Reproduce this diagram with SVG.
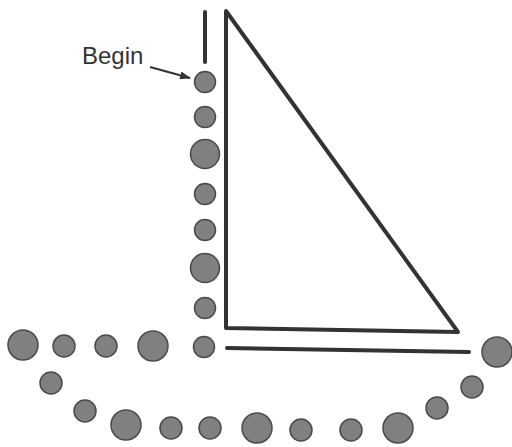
<svg xmlns="http://www.w3.org/2000/svg" width="512" height="447" viewBox="0 0 512 447">
<style>
.d{fill:#808080;stroke:#4a4a4a;stroke-width:1.5}
.ln{fill:none;stroke:#333;stroke-width:4;stroke-linecap:round;stroke-linejoin:round}
.lbl{font-family:"Liberation Sans",Arial,sans-serif;font-size:24px;fill:#333}
</style>
<defs>
<marker id="ah" markerWidth="11" markerHeight="8" refX="10" refY="4" orient="auto" markerUnits="userSpaceOnUse">
<path d="M0,0 L11,4 L0,8 Z" fill="#333"/>
</marker>
</defs>
<rect width="512" height="447" fill="#fff"/>
<g id="connectors">
<line class="ln" x1="205" y1="12" x2="205" y2="62"/>
<path class="ln" d="M226,11 L226,328 L458,332 Z"/>
<line class="ln" x1="227" y1="348" x2="469" y2="352"/>
<line x1="150" y1="67" x2="190" y2="78" stroke="#333" stroke-width="2.2" marker-end="url(#ah)"/>
</g>
<g id="label"><text class="lbl" x="82" y="64">Begin</text></g>
<g id="vertical">
<circle class="d" cx="205" cy="82" r="10.5"/>
<circle class="d" cx="205" cy="117" r="10.5"/>
<circle class="d" cx="205" cy="154" r="14.5"/>
<circle class="d" cx="205" cy="194" r="10.5"/>
<circle class="d" cx="205" cy="230" r="10.5"/>
<circle class="d" cx="205" cy="268" r="14.5"/>
<circle class="d" cx="205" cy="308" r="10.5"/>
<circle class="d" cx="204" cy="347" r="10.5"/>
</g>
<g id="row">
<circle class="d" cx="23" cy="345" r="15"/>
<circle class="d" cx="64" cy="346" r="11"/>
<circle class="d" cx="106" cy="346" r="11"/>
<circle class="d" cx="153" cy="346" r="15"/>
</g>
<g id="arc">
<circle class="d" cx="51" cy="383" r="11"/>
<circle class="d" cx="85" cy="411" r="11"/>
<circle class="d" cx="126" cy="425" r="15"/>
<circle class="d" cx="171" cy="428" r="11"/>
<circle class="d" cx="210" cy="428" r="11"/>
<circle class="d" cx="257" cy="428" r="15"/>
<circle class="d" cx="301" cy="430" r="11"/>
<circle class="d" cx="351" cy="430" r="11"/>
<circle class="d" cx="398" cy="428" r="15"/>
<circle class="d" cx="437" cy="408" r="11"/>
<circle class="d" cx="472" cy="387" r="11"/>
<circle class="d" cx="497" cy="352" r="15"/>
</g>
</svg>
